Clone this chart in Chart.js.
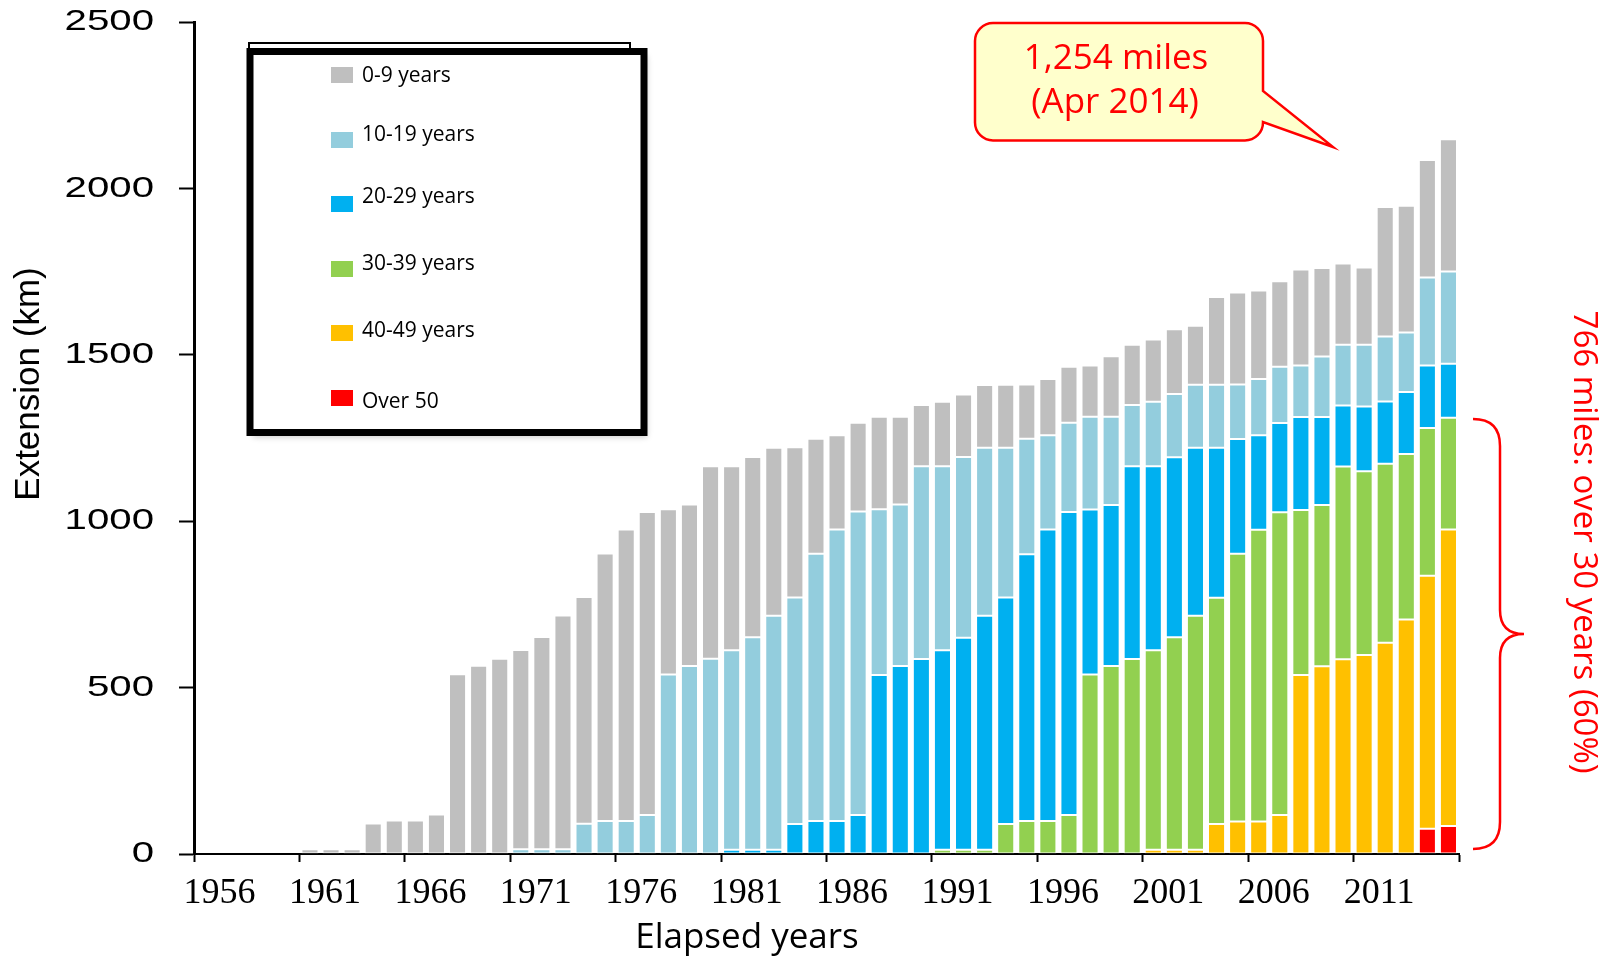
<!DOCTYPE html>
<html>
<head>
<meta charset="utf-8">
<title>Extension by elapsed years</title>
<script src="https://cdn.jsdelivr.net/npm/chart.js@4.4.0/dist/chart.umd.min.js"></script>
<style>
  html, body { margin: 0; padding: 0; background: #fff; }
  canvas { display: block; }
</style>
</head>
<body>
<canvas id="chart" width="1604" height="961"></canvas>
<script>
var years = [
  "1956", "1957", "1958", "1959", "1960", "1961", "1962", "1963", "1964", "1965",
  "1966", "1967", "1968", "1969", "1970", "1971", "1972", "1973", "1974", "1975",
  "1976", "1977", "1978", "1979", "1980", "1981", "1982", "1983", "1984", "1985",
  "1986", "1987", "1988", "1989", "1990", "1991", "1992", "1993", "1994", "1995",
  "1996", "1997", "1998", "1999", "2000", "2001", "2002", "2003", "2004", "2005",
  "2006", "2007", "2008", "2009", "2010", "2011", "2012", "2013", "2014", "2015"
];

// km of line in each age band, per year
var age0to9 = [
  0, 0, 0, 0, 0, 14, 14, 14, 92, 101,
  101, 119, 540, 566, 587, 599, 638, 703, 681, 804,
  876, 911, 497, 485, 578, 553, 542, 505, 451, 346,
  283, 267, 278, 264, 184, 194, 188, 188, 189, 163,
  169, 168, 154, 182, 181, 187, 195, 177, 264, 276,
  266, 257, 288, 266, 244, 232, 389, 381, 353, 398
];
var age10to19 = [
  0, 0, 0, 0, 0, 0, 0, 0, 0, 0,
  0, 0, 0, 0, 0, 14, 14, 14, 91, 99,
  99, 117, 539, 565, 587, 599, 638, 703, 681, 803,
  876, 912, 498, 485, 579, 553, 543, 505, 450, 347,
  283, 268, 279, 265, 184, 194, 190, 189, 189, 164,
  169, 169, 155, 182, 182, 185, 195, 179, 264, 277
];
var age20to29 = [
  0, 0, 0, 0, 0, 0, 0, 0, 0, 0,
  0, 0, 0, 0, 0, 0, 0, 0, 0, 0,
  0, 0, 0, 0, 0, 13, 13, 13, 90, 99,
  99, 117, 538, 565, 586, 599, 637, 703, 681, 802,
  876, 911, 496, 484, 579, 553, 541, 505, 451, 345,
  284, 268, 279, 264, 184, 195, 187, 186, 188, 162
];
var age30to39 = [
  0, 0, 0, 0, 0, 0, 0, 0, 0, 0,
  0, 0, 0, 0, 0, 0, 0, 0, 0, 0,
  0, 0, 0, 0, 0, 0, 0, 0, 0, 0,
  0, 0, 0, 0, 0, 13, 13, 13, 90, 99,
  99, 117, 539, 565, 586, 599, 638, 703, 680, 804,
  876, 910, 496, 485, 579, 552, 538, 497, 444, 336
];
var age40to49 = [
  0, 0, 0, 0, 0, 0, 0, 0, 0, 0,
  0, 0, 0, 0, 0, 0, 0, 0, 0, 0,
  0, 0, 0, 0, 0, 0, 0, 0, 0, 0,
  0, 0, 0, 0, 0, 0, 0, 0, 0, 0,
  0, 0, 0, 0, 0, 13, 13, 13, 90, 98,
  98, 117, 538, 564, 585, 598, 635, 705, 760, 891
];
var ageOver50 = [
  0, 0, 0, 0, 0, 0, 0, 0, 0, 0,
  0, 0, 0, 0, 0, 0, 0, 0, 0, 0,
  0, 0, 0, 0, 0, 0, 0, 0, 0, 0,
  0, 0, 0, 0, 0, 0, 0, 0, 0, 0,
  0, 0, 0, 0, 0, 0, 0, 0, 0, 0,
  0, 0, 0, 0, 0, 0, 0, 0, 76, 84
];
var yTicks = [0, 500, 1000, 1500, 2000, 2500];

var sansFont = "'Open Sans', 'DejaVu Sans', sans-serif";

function bandSet(label, data, color) {
  return {
    label: label,
    data: data,
    backgroundColor: color,
    borderColor: "rgba(255,255,255,0.45)",
    borderWidth: 1,
    borderSkipped: false,
    barPercentage: 0.81,
    categoryPercentage: 1.0
  };
}

// legend, callout, brace and the axis texts
var overlay = {
  id: "overlay",
  afterDraw: function (chart) {
    var ctx = chart.ctx;
    var ys = chart.scales.y;

    // y tick labels (wide Arial look)
    ctx.save();
    ctx.fillStyle = "#000";
    ctx.font = "30px 'Liberation Sans', Arial, sans-serif";
    ctx.textAlign = "right";
    ctx.textBaseline = "middle";
    ys.ticks.forEach(function (t) {
      var py = ys.getPixelForValue(t.value);
      ctx.save();
      ctx.translate(154, py);
      ctx.scale(1.34, 1);
      ctx.fillText(String(t.value), 0, 0);
      ctx.restore();
    });
    ctx.restore();

    // axis titles
    ctx.save();
    ctx.fillStyle = "#000";
    ctx.textAlign = "center";
    ctx.textBaseline = "middle";
    ctx.font = "35px 'Liberation Sans', Arial, sans-serif";
    ctx.translate(29, 384);
    ctx.rotate(-Math.PI / 2);
    ctx.fillText("Extension (km)", 0, 0);
    ctx.restore();

    ctx.save();
    ctx.fillStyle = "#000";
    ctx.textAlign = "center";
    ctx.textBaseline = "middle";
    ctx.font = "35px " + sansFont;
    ctx.fillText("Elapsed years", 747, 938);
    ctx.restore();

    // legend box
    ctx.save();
    ctx.strokeStyle = "#000";
    ctx.lineWidth = 2;
    ctx.beginPath();
    ctx.moveTo(249, 51);
    ctx.lineTo(249, 43);
    ctx.lineTo(630, 43);
    ctx.lineTo(630, 51);
    ctx.stroke();
    ctx.shadowColor = "rgba(0,0,0,0.22)";
    ctx.shadowBlur = 6;
    ctx.shadowOffsetX = 3;
    ctx.shadowOffsetY = 4;
    ctx.fillStyle = "#fff";
    ctx.fillRect(250, 51.5, 394, 381);
    ctx.shadowColor = "rgba(0,0,0,0)";
    ctx.lineWidth = 7;
    ctx.strokeRect(250, 51.5, 394, 381);

    var sqY = [75, 140, 204, 269, 333, 398];
    var txY = [76, 135, 197, 264, 331, 402];
    var sets = chart.data.datasets.slice().reverse();
    ctx.font = "21px " + sansFont;
    ctx.textAlign = "left";
    ctx.textBaseline = "middle";
    sets.forEach(function (ds, k) {
      ctx.fillStyle = ds.backgroundColor;
      ctx.fillRect(331, sqY[k] - 8, 22, 16);
      ctx.fillStyle = "#000";
      ctx.fillText(ds.label, 362, txY[k]);
    });
    ctx.restore();

    // callout
    ctx.save();
    var L = 975, R = 1263, T = 23, B = 140.5, r = 18;
    ctx.beginPath();
    ctx.moveTo(L + r, T);
    ctx.lineTo(R - r, T);
    ctx.arcTo(R, T, R, T + r, r);
    ctx.lineTo(R, 91);
    ctx.lineTo(1333, 147);
    ctx.lineTo(R, 122);
    ctx.lineTo(R, B - r);
    ctx.arcTo(R, B, R - r, B, r);
    ctx.lineTo(L + r, B);
    ctx.arcTo(L, B, L, B - r, r);
    ctx.lineTo(L, T + r);
    ctx.arcTo(L, T, L + r, T, r);
    ctx.closePath();
    ctx.fillStyle = "#ffffcc";
    ctx.fill();
    ctx.strokeStyle = "#ff0000";
    ctx.lineWidth = 2.5;
    ctx.stroke();
    ctx.fillStyle = "#ff0000";
    ctx.font = "35px " + sansFont;
    ctx.textAlign = "center";
    ctx.textBaseline = "alphabetic";
    ctx.fillText("1,254 miles", 1116, 69);
    ctx.fillText("(Apr 2014)", 1115, 113);
    ctx.restore();

    // brace over the 30+ years part
    ctx.save();
    ctx.strokeStyle = "#ff0000";
    ctx.lineWidth = 2.5;
    ctx.beginPath();
    ctx.moveTo(1473, 419);
    ctx.quadraticCurveTo(1500, 419, 1500, 446);
    ctx.lineTo(1500, 610);
    ctx.quadraticCurveTo(1500, 634, 1524, 634);
    ctx.quadraticCurveTo(1500, 634, 1500, 658);
    ctx.lineTo(1500, 822);
    ctx.quadraticCurveTo(1500, 849, 1473, 849);
    ctx.stroke();
    ctx.fillStyle = "#ff0000";
    ctx.font = "33px " + sansFont;
    ctx.textAlign = "center";
    ctx.textBaseline = "middle";
    ctx.translate(1583, 542);
    ctx.rotate(Math.PI / 2);
    ctx.fillText("766 miles: over 30 years (60%)", 0, 0);
    ctx.restore();
  }
};

new Chart(document.getElementById("chart"), {
  type: "bar",
  data: {
    labels: years,
    datasets: [
      bandSet("Over 50", ageOver50, "#ff0000"),
      bandSet("40-49 years", age40to49, "#ffc000"),
      bandSet("30-39 years", age30to39, "#92d050"),
      bandSet("20-29 years", age20to29, "#00b0f0"),
      bandSet("10-19 years", age10to19, "#93cddd"),
      bandSet("0-9 years", age0to9, "#bfbfbf")
    ]
  },
  options: {
    responsive: false,
    animation: false,
    layout: { padding: { top: 22, right: 145, left: 0, bottom: 0 } },
    plugins: {
      legend: { display: false },
      tooltip: { enabled: false }
    },
    scales: {
      x: {
        stacked: true,
        offset: true,
        grid: {
          offset: true,
          drawOnChartArea: false,
          drawTicks: true,
          tickLength: 8,
          tickWidth: 2,
          tickColor: function (c) {
            if (c.tick === undefined) return "#000";
            return c.index % 5 === 0 ? "#000" : "rgba(0,0,0,0)";
          }
        },
        border: { display: true, color: "#000", width: 2 },
        ticks: {
          autoSkip: false,
          maxRotation: 0,
          minRotation: 0,
          padding: 10,
          labelOffset: 15,
          color: "#000",
          font: { family: "'Liberation Serif', 'Times New Roman', serif", size: 36 },
          callback: function (v, i) {
            return i % 5 === 0 ? this.getLabelForValue(v) : "";
          }
        },
        afterFit: function (s) { s.height = 107; }
      },
      y: {
        stacked: true,
        min: yTicks[0],
        max: yTicks[yTicks.length - 1],
        ticks: { stepSize: yTicks[1] - yTicks[0], display: false },
        grid: {
          drawOnChartArea: false,
          tickLength: 15,
          tickWidth: 2,
          tickColor: "#000"
        },
        border: { display: true, color: "#000", width: 3 },
        afterFit: function (s) { s.width = 194; }
      }
    }
  },
  plugins: [overlay]
});
</script>
</body>
</html>
